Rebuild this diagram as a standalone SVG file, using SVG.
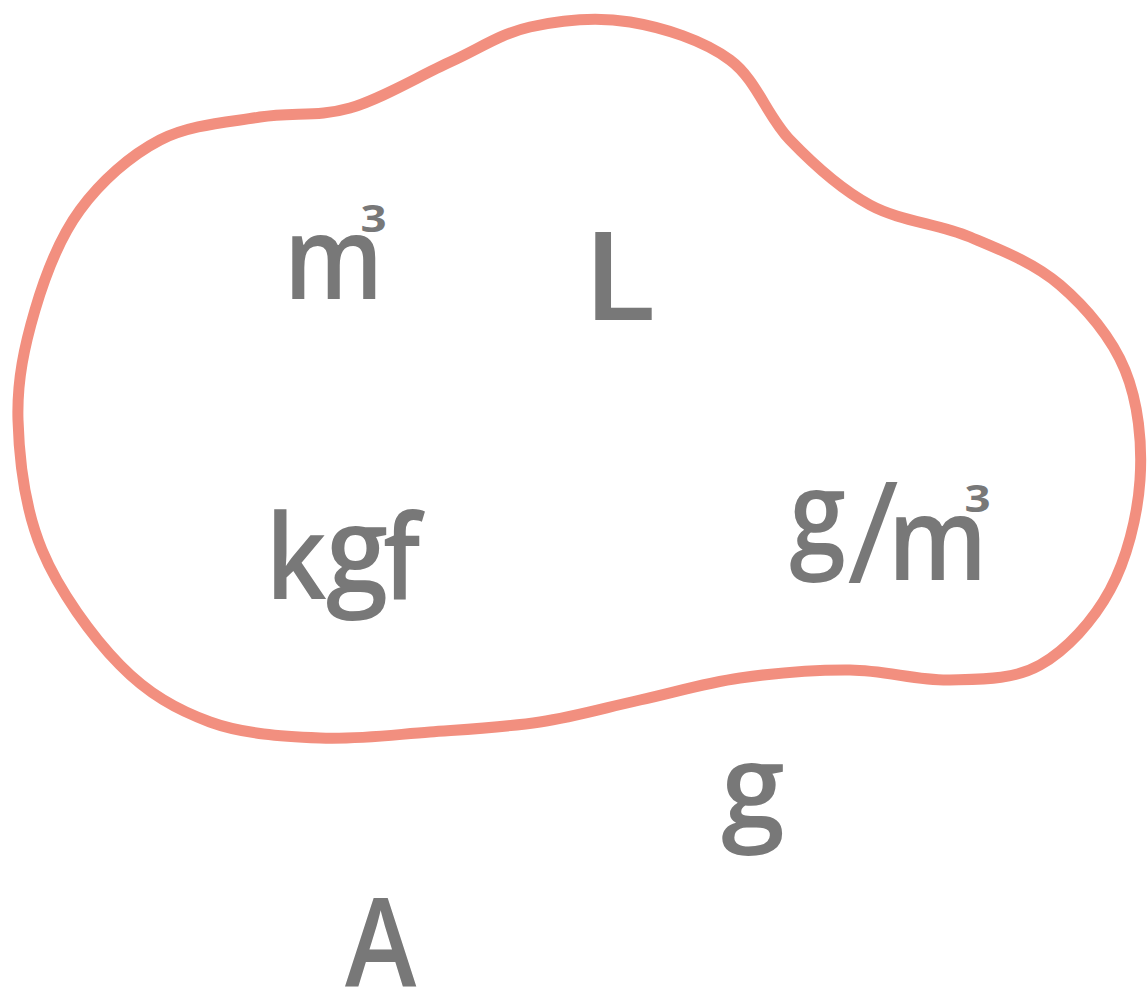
<svg xmlns="http://www.w3.org/2000/svg" width="1147" height="988" viewBox="0 0 1147 988">
<style>
text{font-family:"Open Sans","Liberation Sans",sans-serif;font-weight:600;fill:#787878}
.c{text-anchor:middle}
.sup{font-weight:700;font-size:38px}
.thin{font-weight:400}
</style>
<rect width="1147" height="988" fill="#ffffff"/>
<g id="blob">
<path d="M18,420 C16.8,380 24.7,345 35,310 S59.2,238.3 80,210 S130,155.5 160,140 S228.3,122.3 260,117 S318.3,117.2 350,108 S420,75.5 450,62 S500,33.7 530,27 S596.7,16.5 630,22 S703.3,40.3 730,60 S766.7,115.8 790,140 S840,188.8 870,205 S938.3,223.7 970,237 S1034.2,262.8 1060,285 S1111.7,337.5 1125,370 S1142.5,443.3 1140,480 S1126.7,559.2 1110,590 S1066.7,650 1040,665 S981.7,679.2 950,680 S885,670.3 850,670 S775,673 740,678 S673.3,692.7 640,700 S575,716.7 540,722 S466.7,729.3 430,732 S356.7,739.7 320,738 S243.3,734.2 210,722 S148,693.7 120,665 S59,590.8 42,550 S19.2,460 18,420 Z" fill="none" stroke="#f28f7f" stroke-width="11"/>
</g>
<g id="m3">
<text class="c" font-size="116" transform="translate(333.5,299) scale(0.9,1)">m</text>
<text class="c sup" transform="translate(373.5,232) scale(1.2,1)">3</text>
</g>
<g id="L"><text font-size="123" transform="translate(582.8,320) scale(1.09,1)">L</text></g>
<g id="kgf">
<text font-size="117" transform="translate(265.4,599) scale(0.91,1)">k</text>
<text class="c" font-size="119" transform="translate(357,592) scale(0.94,1)">g</text>
<text font-size="117" transform="translate(383,599) scale(0.88,1)">f</text>
</g>
<g id="gm3">
<text class="c" font-size="118" transform="translate(817.5,554.5) scale(0.86,1)">g</text>
<text class="c thin" font-size="141" transform="translate(873,583)">/</text>
<text class="c" font-size="116" transform="translate(937.5,580) scale(0.9,1)">m</text>
<text class="c sup" transform="translate(977.5,512) scale(1.2,1)">3</text>
</g>
<g id="g"><text class="c" font-size="118" transform="translate(753,827.5) scale(0.97,1)">g</text></g>
<g id="A"><text font-size="124" transform="translate(345,986) scale(0.87,1)">A</text></g>
</svg>
